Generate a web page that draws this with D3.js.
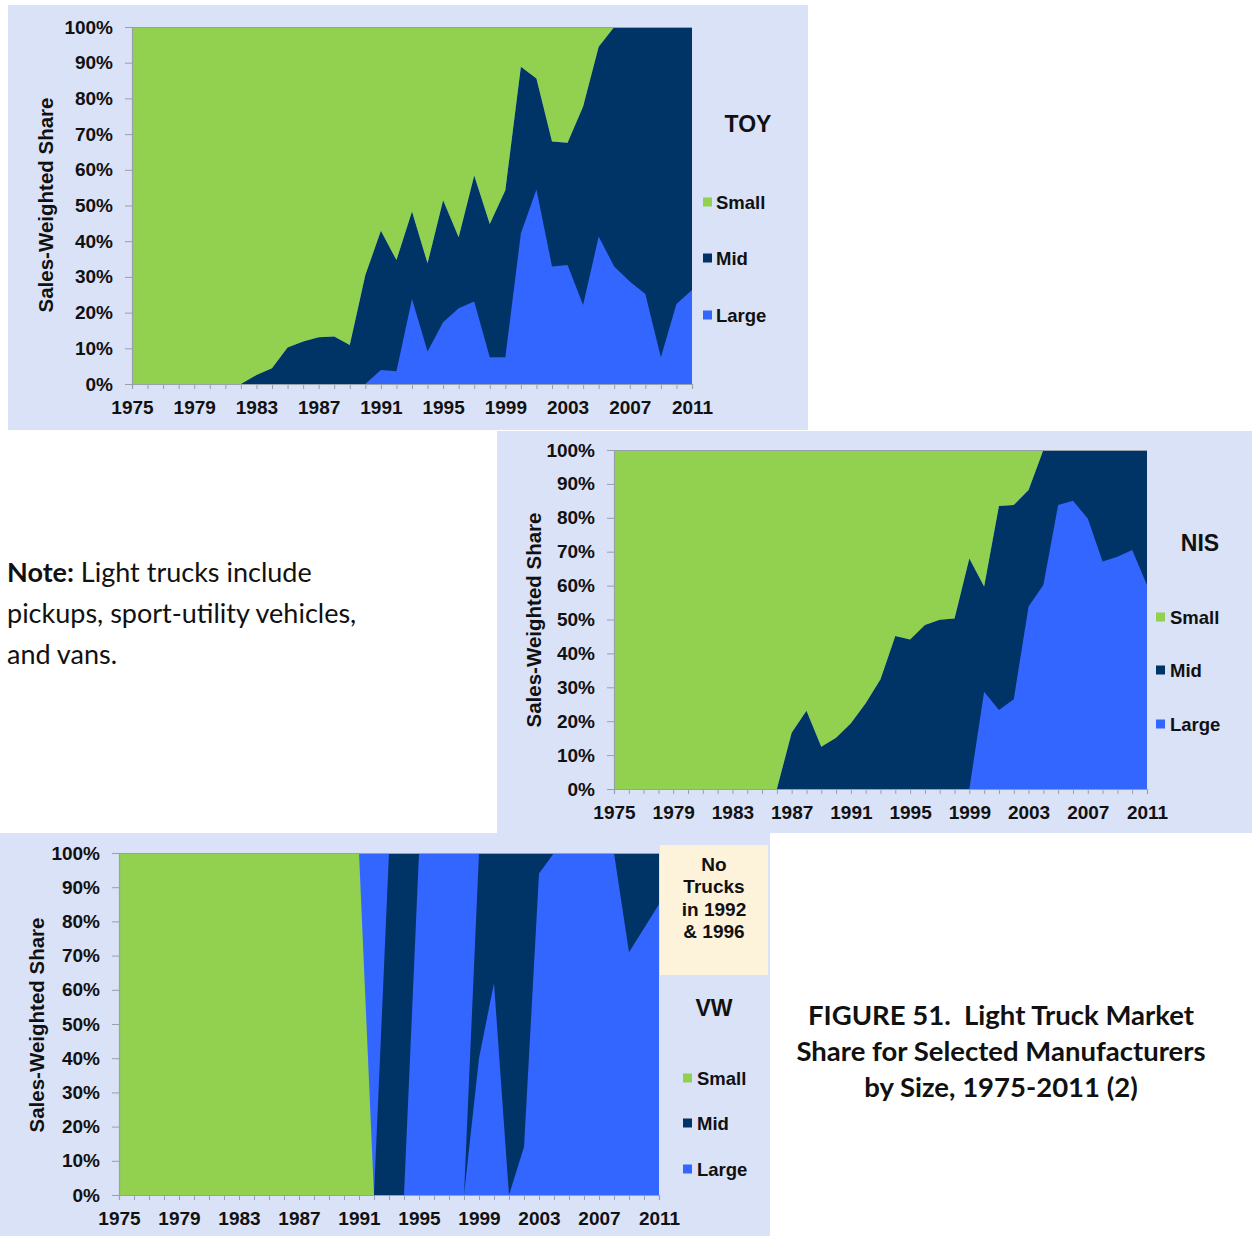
<!DOCTYPE html>
<html><head><meta charset="utf-8">
<script src="https://cdn.jsdelivr.net/npm/d3@7"></script>
<style>
html,body{margin:0;padding:0;background:#fff;}
svg{display:block;}
</style></head>
<body>
<svg id="chart" width="1252" height="1236"></svg>
<script>
// ---------- DATA ----------
const years = d3.range(1975, 2012);
const seriesNames = ["Large", "Mid", "Small"];
const xTickLabels = ["1975","1979","1983","1987","1991","1995","1999","2003","2007","2011"];
const yTickValues = [0,10,20,30,40,50,60,70,80,90,100];

// TOY (percent share)
const toySmall = [100,100,100,100,100,100,100,100,97.5,95.6,89.8,88.1,86.9,86.7,89.1,69.5,57.1,65.3,51.7,66.2,48.5,58.9,41.6,55.2,45.7,11.1,14.4,32.1,32.4,22.3,5.5,0,0,0,0,0,0];
const toyMid   = [0,0,0,0,0,0,0,0,2.5,4.4,10.2,11.9,13.1,13.3,10.9,30.5,39.0,31.1,24.5,24.7,34.2,19.9,35.3,37.3,46.8,46.7,31.1,35.0,34.3,55.6,53.2,67.1,71.3,74.8,92.5,77.6,73.7];
const toyLarge = [0,0,0,0,0,0,0,0,0,0,0,0,0,0,0,0,3.9,3.6,23.8,9.1,17.3,21.2,23.1,7.5,7.5,42.2,54.5,32.9,33.3,22.1,41.3,32.9,28.7,25.2,7.5,22.4,26.3];

// NIS
const nisSmall = [100,100,100,100,100,100,100,100,100,100,100,100,83.4,76.9,87.5,84.9,80.6,74.7,67.6,54.9,55.9,51.6,50.1,49.7,32.0,40.3,16.5,16.2,11.8,0,0,0,0,0,0,0,0];
const nisMid   = [0,0,0,0,0,0,0,0,0,0,0,0,16.6,23.1,12.5,15.1,19.4,25.3,32.4,45.1,44.1,48.4,49.9,50.3,68.0,31.0,60.2,57.3,34.4,39.8,16.2,15.0,20.2,32.9,31.5,29.5,39.8];
const nisLarge = [0,0,0,0,0,0,0,0,0,0,0,0,0,0,0,0,0,0,0,0,0,0,0,0,0,28.7,23.3,26.5,53.8,60.2,83.8,85.0,79.8,67.1,68.5,70.5,60.2];

// VW (no trucks in 1992 & 1996)
const vwSmall = [100,100,100,100,100,100,100,100,100,100,100,100,100,100,100,100,100,0,0,0,0,0,0,0,0,0,0,0,0,0,0,0,0,0,0,0,0];
const vwMid   = [0,0,0,0,0,0,0,0,0,0,0,0,0,0,0,0,0,0,100,100,0,0,0,0,60,38,100,86,6,0,0,0,0,0,29,22,15];
const vwLarge = [0,0,0,0,0,0,0,0,0,0,0,0,0,0,0,0,0,0,0,0,100,0,100,0,40,62,0,14,94,100,100,100,100,100,71,78,85];

const colors = {Small:"#92D050", Mid:"#003366", Large:"#3366FF"};
const legendOrder = ["Small","Mid","Large"];

// ---------- LAYOUT ----------
const panels = [
  {name:"TOY", small:toySmall, mid:toyMid, large:toyLarge,
   panel:{x:8,y:5,w:800,h:425}, plot:{x0:132,x1:692,y0:27,y1:384},
   title:{x:748,y:124}, legSq:703, legTx:716, legY:[202,258,315], axTitle:{x:45,y:205}},
  {name:"NIS", small:nisSmall, mid:nisMid, large:nisLarge,
   panel:{x:497,y:431,w:755,h:402}, plot:{x0:614,x1:1147,y0:450,y1:789},
   title:{x:1200,y:543}, legSq:1156, legTx:1170, legY:[617,670,724], axTitle:{x:533,y:620}},
  {name:"VW", small:vwSmall, mid:vwMid, large:vwLarge,
   panel:{x:0,y:833,w:770,h:403}, plot:{x0:119,x1:659,y0:853,y1:1195},
   title:{x:714,y:1008}, legSq:683, legTx:697, legY:[1078,1123,1169], axTitle:{x:36,y:1025},
   box:{x:660,y:845,w:108,h:130, lines:["No","Trucks","in 1992","& 1996"]}}
];

const svg = d3.select("#chart");
const FONT = "'Liberation Sans', Arial, sans-serif";

panels.forEach(p => {
  const g = svg.append("g");
  g.append("rect").attr("x",p.panel.x).attr("y",p.panel.y)
    .attr("width",p.panel.w).attr("height",p.panel.h).attr("fill","#DAE2F7");

  const x = d3.scaleLinear().domain([1975,2011]).range([p.plot.x0,p.plot.x1]);
  const y = d3.scaleLinear().domain([0,100]).range([p.plot.y1,p.plot.y0]);

  const table = years.map((yr,i)=>({year:yr, Large:p.large[i], Mid:p.mid[i], Small:p.small[i]}));
  const stacked = d3.stack().keys(seriesNames)(table);

  // plot background (shows where there were no trucks)
  g.append("rect").attr("x",p.plot.x0).attr("y",p.plot.y0)
    .attr("width",p.plot.x1-p.plot.x0).attr("height",p.plot.y1-p.plot.y0)
    .attr("fill",colors.Large);

  const area = d3.area().x(d=>x(d.data.year)).y0(d=>y(d[0])).y1(d=>y(d[1]));
  g.selectAll("path.layer").data(stacked).join("path")
    .attr("class","layer").attr("d",area).attr("fill",d=>colors[d.key]);

  // top border of plot
  g.append("line").attr("x1",p.plot.x0).attr("x2",p.plot.x1)
    .attr("y1",p.plot.y0+0.5).attr("y2",p.plot.y0+0.5)
    .attr("stroke","#9aa0a8").attr("stroke-width",1);

  // axes
  const yAxis = d3.axisLeft(y).tickValues(yTickValues).tickSize(7).tickPadding(12)
    .tickFormat(d=>d+"%");
  const ya = g.append("g").attr("transform",`translate(${p.plot.x0},0)`).call(yAxis);
  const xAxis = d3.axisBottom(x).tickValues(years).tickSize(5).tickPadding(12)
    .tickFormat(d=> xTickLabels.includes(String(d)) ? String(d) : "");
  const xa = g.append("g").attr("transform",`translate(0,${p.plot.y1})`).call(xAxis);
  [ya,xa].forEach(a=>{
    a.select(".domain").attr("stroke","#9aa0a8").attr("stroke-width",1.2);
    a.selectAll(".tick line").attr("stroke","#9aa0a8");
    a.selectAll(".tick text").attr("fill","#111").attr("font-family",FONT)
      .attr("font-weight","bold").attr("font-size",19);
  });

  // axis title
  g.append("text").attr("transform",`translate(${p.axTitle.x},${p.axTitle.y}) rotate(-90)`)
    .attr("text-anchor","middle").attr("dominant-baseline","central")
    .attr("font-family",FONT).attr("font-weight","bold").attr("font-size",20.5)
    .attr("fill","#111").text("Sales-Weighted Share");

  // box
  if (p.box) {
    g.append("rect").attr("x",p.box.x).attr("y",p.box.y).attr("width",p.box.w).attr("height",p.box.h)
      .attr("fill","#FDF3DA");
    g.selectAll("text.box").data(p.box.lines).join("text").attr("class","box")
      .attr("x",p.box.x+p.box.w/2).attr("y",(d,i)=>p.box.y+19+i*22.5)
      .attr("text-anchor","middle").attr("dominant-baseline","central")
      .attr("font-family",FONT).attr("font-weight","bold").attr("font-size",19)
      .attr("fill","#111").text(d=>d);
  }

  // title
  g.append("text").attr("x",p.title.x).attr("y",p.title.y)
    .attr("text-anchor","middle").attr("dominant-baseline","central")
    .attr("font-family",FONT).attr("font-weight","bold").attr("font-size",23)
    .attr("fill","#111").text(p.name);

  // legend
  legendOrder.forEach((k,i)=>{
    g.append("rect").attr("x",p.legSq).attr("y",p.legY[i]-4.5).attr("width",9).attr("height",9)
      .attr("fill",colors[k]);
    g.append("text").attr("x",p.legTx).attr("y",p.legY[i])
      .attr("dominant-baseline","central")
      .attr("font-family",FONT).attr("font-weight","bold").attr("font-size",18.5)
      .attr("fill","#111").text(k);
  });
});

// Note text
const note = svg.append("text").attr("font-family","Lato, 'Open Sans', sans-serif")
  .attr("font-size",27).attr("fill","#111");
note.append("tspan").attr("x",7).attr("y",582).attr("font-weight","bold").text("Note:");
note.append("tspan").text(" Light trucks include");
note.append("tspan").attr("x",7).attr("y",623).text("pickups, sport-utility vehicles,");
note.append("tspan").attr("x",7).attr("y",664).text("and vans.");

// Caption
const capLines = ["FIGURE 51.  Light Truck Market","Share for Selected Manufacturers","by Size, 1975-2011 (2)"];
svg.selectAll("text.cap").data(capLines).join("text").attr("class","cap")
  .attr("x",1001).attr("y",(d,i)=>1014+i*36).attr("text-anchor","middle")
  .attr("dominant-baseline","central").attr("xml:space","preserve")
  .style("white-space","pre")
  .attr("font-family","Lato, 'Open Sans', sans-serif").attr("font-weight","bold")
  .attr("font-size",27.5).attr("fill","#111").text(d=>d);
</script>
</body></html>
